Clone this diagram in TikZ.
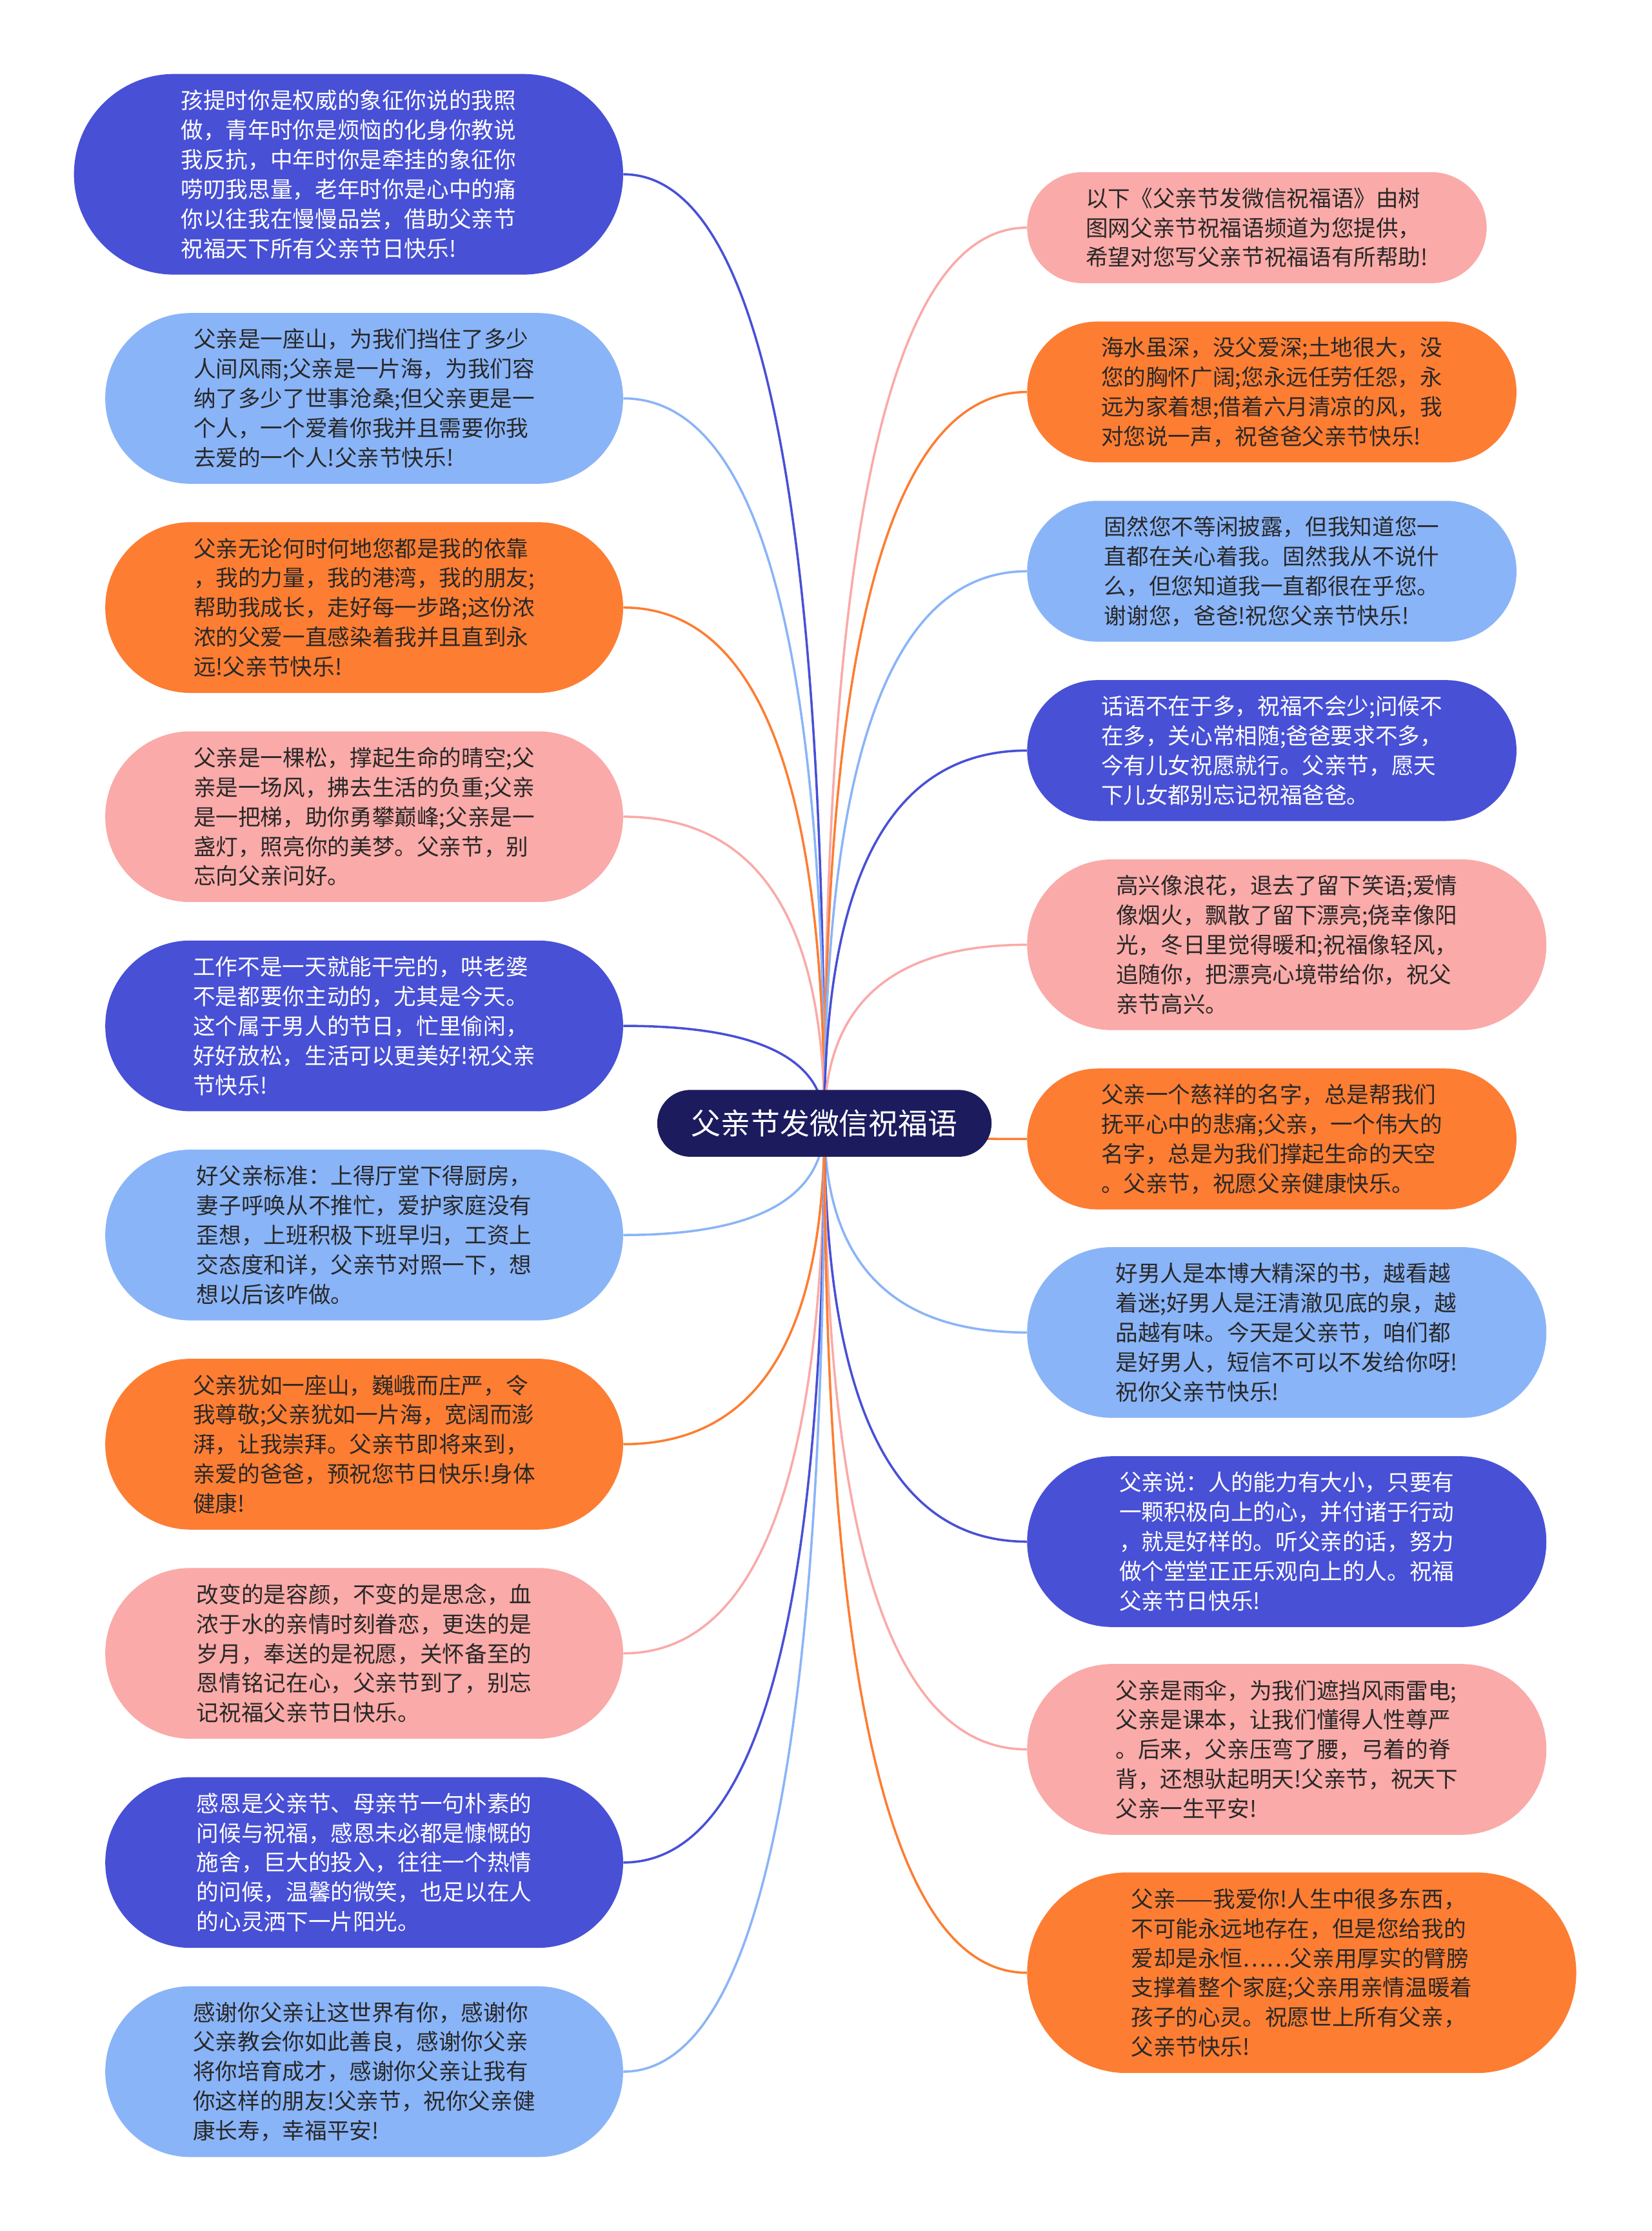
\documentclass[tikz,border=0pt]{standalone}
\usepackage{fontspec}
\setmainfont{Noto Sans CJK SC}
\usetikzlibrary{backgrounds}
\definecolor{cdark}{RGB}{72,80,214}
\definecolor{clight}{RGB}{138,180,248}
\definecolor{corange}{RGB}{253,125,50}
\definecolor{cpink}{RGB}{250,170,168}
\definecolor{cnavy}{RGB}{28,27,94}
\definecolor{ctext}{RGB}{40,40,40}
\begin{document}
\begin{tikzpicture}[x=1pt,y=-1pt,
  bubble/.style={rectangle, draw=none, inner sep=0pt, align=left,
    font=\fontsize{15.7}{20.8}\selectfont},
  hthree/.style={bubble, minimum width=323pt, minimum height=78pt, rounded corners=38.9pt},
  hfour/.style={bubble, minimum width=344pt, minimum height=99pt, rounded corners=49.4pt},
  hfive/.style={bubble, minimum width=364pt, minimum height=120pt, rounded corners=59.9pt},
  hsix/.style={bubble, minimum width=386pt, minimum height=141pt, rounded corners=70.4pt},
  ndark/.style={fill=cdark, text=white},
  nlight/.style={fill=clight, text=ctext},
  norange/.style={fill=corange, text=ctext},
  npink/.style={fill=cpink, text=ctext},
  rootbox/.style={rectangle, fill=cnavy, text=white, inner sep=0pt,
    minimum width=235pt, minimum height=47pt, rounded corners=23.4pt,
    font=\fontsize{20.8}{24}\selectfont},
  link/.style={line width=1.6pt}
]
\useasboundingbox (0,0) rectangle (1161,1568);

\node[rootbox] (C) at (579.5,789.5) {父亲节发微信祝福语};

% left column
\node[hsix, ndark] (L1) at (245,122.5) {孩提时你是权威的象征你说的我照\\做，青年时你是烦恼的化身你教说\\我反抗，中年时你是牵挂的象征你\\唠叨我思量，老年时你是心中的痛\\你以往我在慢慢品尝，借助父亲节\\祝福天下所有父亲节日快乐!};
\node[hfive, nlight] (L2) at (256,280) {父亲是一座山，为我们挡住了多少\\人间风雨;父亲是一片海，为我们容\\纳了多少了世事沧桑;但父亲更是一\\个人，一个爱着你我并且需要你我\\去爱的一个人!父亲节快乐!};
\node[hfive, norange] (L3) at (256,427) {父亲无论何时何地您都是我的依靠\\，我的力量，我的港湾，我的朋友;\\帮助我成长，走好每一步路;这份浓\\浓的父爱一直感染着我并且直到永\\远!父亲节快乐!};
\node[hfive, npink] (L4) at (256,574) {父亲是一棵松，撑起生命的晴空;父\\亲是一场风，拂去生活的负重;父亲\\是一把梯，助你勇攀巅峰;父亲是一\\盏灯，照亮你的美梦。父亲节，别\\忘向父亲问好。};
\node[hfive, ndark] (L5) at (256,721) {工作不是一天就能干完的，哄老婆\\不是都要你主动的，尤其是今天。\\这个属于男人的节日，忙里偷闲，\\好好放松，生活可以更美好!祝父亲\\节快乐!};
\node[hfive, nlight] (L6) at (256,868) {好父亲标准：上得厅堂下得厨房，\\妻子呼唤从不推忙，爱护家庭没有\\歪想，上班积极下班早归，工资上\\交态度和详，父亲节对照一下，想\\想以后该咋做。};
\node[hfive, norange] (L7) at (256,1015) {父亲犹如一座山，巍峨而庄严，令\\我尊敬;父亲犹如一片海，宽阔而澎\\湃，让我崇拜。父亲节即将来到，\\亲爱的爸爸，预祝您节日快乐!身体\\健康!};
\node[hfive, npink] (L8) at (256,1162) {改变的是容颜，不变的是思念，血\\浓于水的亲情时刻眷恋，更迭的是\\岁月，奉送的是祝愿，关怀备至的\\恩情铭记在心，父亲节到了，别忘\\记祝福父亲节日快乐。};
\node[hfive, ndark] (L9) at (256,1309) {感恩是父亲节、母亲节一句朴素的\\问候与祝福，感恩未必都是慷慨的\\施舍，巨大的投入，往往一个热情\\的问候，温馨的微笑，也足以在人\\的心灵洒下一片阳光。};
\node[hfive, nlight] (L10) at (256,1456) {感谢你父亲让这世界有你，感谢你\\父亲教会你如此善良，感谢你父亲\\将你培育成才，感谢你父亲让我有\\你这样的朋友!父亲节，祝你父亲健\\康长寿，幸福平安!};

% right column
\node[hthree, npink] (R1) at (883.5,160) {以下《父亲节发微信祝福语》由树\\图网父亲节祝福语频道为您提供，\\希望对您写父亲节祝福语有所帮助!};
\node[hfour, norange] (R2) at (894,275.5) {海水虽深，没父爱深;土地很大，没\\您的胸怀广阔;您永远任劳任怨，永\\远为家着想;借着六月清凉的风，我\\对您说一声，祝爸爸父亲节快乐!};
\node[hfour, nlight] (R3) at (894,401.5) {固然您不等闲披露，但我知道您一\\直都在关心着我。固然我从不说什\\么，但您知道我一直都很在乎您。\\谢谢您，爸爸!祝您父亲节快乐!};
\node[hfour, ndark] (R4) at (894,527.5) {话语不在于多，祝福不会少;问候不\\在多，关心常相随;爸爸要求不多，\\今有儿女祝愿就行。父亲节，愿天\\下儿女都别忘记祝福爸爸。};
\node[hfive, npink, minimum width=365pt] (R5) at (904.5,664) {高兴像浪花，退去了留下笑语;爱情\\像烟火，飘散了留下漂亮;侥幸像阳\\光，冬日里觉得暖和;祝福像轻风，\\追随你，把漂亮心境带给你，祝父\\亲节高兴。};
\node[hfour, norange] (R6) at (894,800.5) {父亲一个慈祥的名字，总是帮我们\\抚平心中的悲痛;父亲，一个伟大的\\名字，总是为我们撑起生命的天空\\。父亲节，祝愿父亲健康快乐。};
\node[hfive, nlight, minimum width=365pt] (R7) at (904.5,936.5) {好男人是本博大精深的书，越看越\\着迷;好男人是汪清澈见底的泉，越\\品越有味。今天是父亲节，咱们都\\是好男人，短信不可以不发给你呀!\\祝你父亲节快乐!};
\node[hfive, ndark, minimum width=365pt] (R8) at (904.5,1083.5) {父亲说：人的能力有大小，只要有\\一颗积极向上的心，并付诸于行动\\，就是好样的。听父亲的话，努力\\做个堂堂正正乐观向上的人。祝福\\父亲节日快乐!};
\node[hfive, npink, minimum width=365pt] (R9) at (904.5,1229.5) {父亲是雨伞，为我们遮挡风雨雷电;\\父亲是课本，让我们懂得人性尊严\\。后来，父亲压弯了腰，弓着的脊\\背，还想驮起明天!父亲节，祝天下\\父亲一生平安!};
\node[hsix, norange] (R10) at (915,1386.5) {父亲——我爱你!人生中很多东西，\\不可能永远地存在，但是您给我的\\爱却是永恒……父亲用厚实的臂膀\\支撑着整个家庭;父亲用亲情温暖着\\孩子的心灵。祝愿世上所有父亲，\\父亲节快乐!};

\begin{pgfonlayer}{background}
\fill[white] (0,0) rectangle (1161,1568);
\draw[link, cdark]   (L1.east)  .. controls +(94.3,0) and +(0,-444.7) .. (C.center);
\draw[link, clight]  (L2.east)  .. controls +(94.3,0) and +(0,-339.7) .. (C.center);
\draw[link, corange] (L3.east)  .. controls +(94.3,0) and +(0,-241.7) .. (C.center);
\draw[link, cpink]   (L4.east)  .. controls +(94.3,0) and +(0,-143.7) .. (C.center);
\draw[link, cdark]   (L5.east)  .. controls +(94.3,0) and +(0,-45.7) .. (C.center);
\draw[link, clight]  (L6.east)  .. controls +(94.3,0) and +(0,52.3) .. (C.center);
\draw[link, corange] (L7.east)  .. controls +(94.3,0) and +(0,150.3) .. (C.center);
\draw[link, cpink]   (L8.east)  .. controls +(94.3,0) and +(0,248.3) .. (C.center);
\draw[link, cdark]   (L9.east)  .. controls +(94.3,0) and +(0,346.3) .. (C.center);
\draw[link, clight]  (L10.east) .. controls +(94.3,0) and +(0,444.3) .. (C.center);
\draw[link, cpink]   (R1.west)  .. controls +(-95,0) and +(0,-419.7) .. (C.center);
\draw[link, corange] (R2.west)  .. controls +(-95,0) and +(0,-342.7) .. (C.center);
\draw[link, clight]  (R3.west)  .. controls +(-95,0) and +(0,-258.7) .. (C.center);
\draw[link, cdark]   (R4.west)  .. controls +(-95,0) and +(0,-174.7) .. (C.center);
\draw[link, cpink]   (R5.west)  .. controls +(-95,0) and +(0,-83.7) .. (C.center);
\draw[link, corange] (R6.west)  .. controls +(-95,0) and +(0,7.3) .. (C.center);
\draw[link, clight]  (R7.west)  .. controls +(-95,0) and +(0,98) .. (C.center);
\draw[link, cdark]   (R8.west)  .. controls +(-95,0) and +(0,196) .. (C.center);
\draw[link, cpink]   (R9.west)  .. controls +(-95,0) and +(0,293.3) .. (C.center);
\draw[link, corange] (R10.west) .. controls +(-95,0) and +(0,398) .. (C.center);
\end{pgfonlayer}
\end{tikzpicture}
\end{document}
